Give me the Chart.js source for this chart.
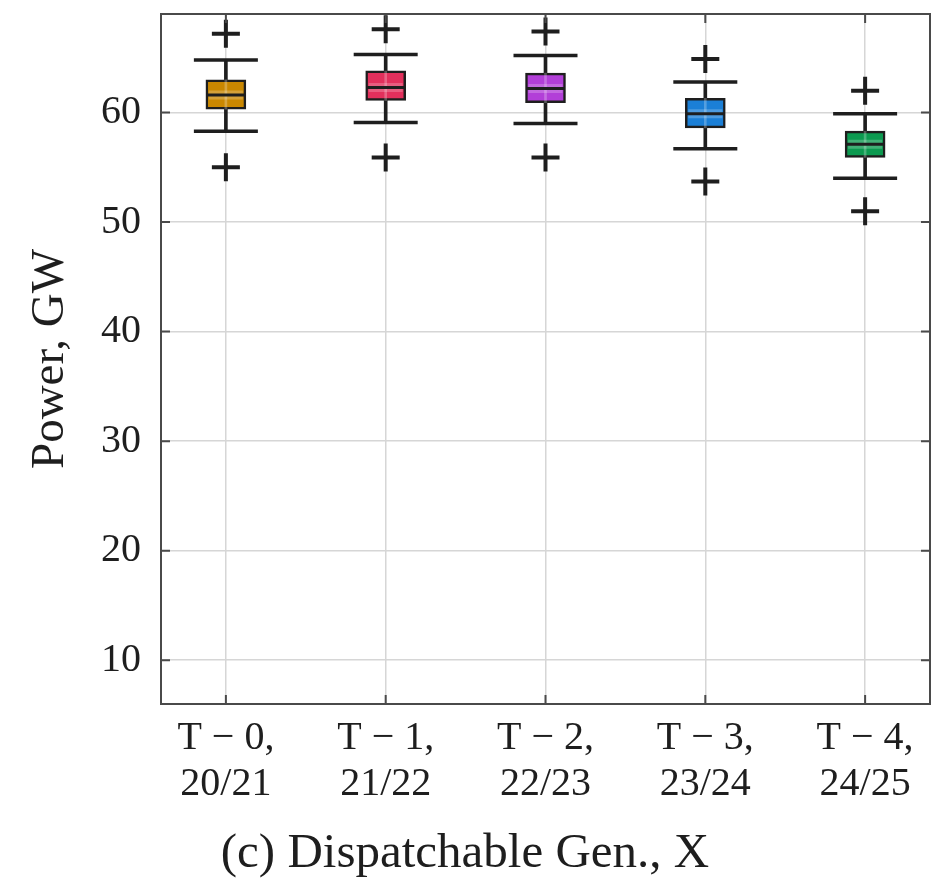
<!DOCTYPE html>
<html>
<head>
<meta charset="utf-8">
<script src="https://cdn.jsdelivr.net/npm/chart.js@4.4.1/dist/chart.umd.min.js"></script>
<style>
    html, body { margin: 0; padding: 0; background: #fff; }
    #wrap { width: 941px; height: 884px; }
</style>
</head>
<body>
<div id="wrap"><canvas id="boxChart"></canvas></div>
<script>
    // categories (x positions 1..5)
    const categories = [
        ['T − 0,', '20/21'],
        ['T − 1,', '21/22'],
        ['T − 2,', '22/23'],
        ['T − 3,', '23/24'],
        ['T − 4,', '24/25']
    ];

    // box plot statistics, GW
    const lowOutlier  = [55.0, 55.9, 55.9, 53.7, 51.0];
    const lowWhisker  = [58.3, 59.1, 59.0, 56.7, 54.0];
    const q1          = [60.3, 61.1, 60.9, 58.6, 55.9];
    const median      = [61.6, 62.3, 62.2, 59.9, 57.1];
    const q3          = [63.0, 63.8, 63.6, 61.3, 58.3];
    const highWhisker = [64.8, 65.3, 65.2, 62.8, 59.9];
    const highOutlier = [67.2, 67.6, 67.4, 64.9, 62.0];

    const yTicks = [10, 20, 30, 40, 50, 60];

    const boxColors = ['#c98700', '#e2305c', '#b23fd8', '#1b7fd6', '#0c9a50'];

    const serif = "'Liberation Serif', 'DejaVu Serif', serif";
    const ink = '#1e1e1e';

    function pts(values) {
        return values.map(function (v, i) { return { x: i + 1, y: v }; });
    }
    function ranges(lo, hi) {
        return lo.map(function (v, i) { return { x: i + 1, y: [v, hi[i]] }; });
    }
    function noPadding(scale) {
        scale.paddingTop = 0;
        scale.paddingBottom = 0;
        scale.paddingLeft = 0;
        scale.paddingRight = 0;
    }

    // box frame + inward ticks on all four sides
    const frame = {
        id: 'frame',
        afterDatasetsDraw(chart) {
            const ctx = chart.ctx;
            const a = chart.chartArea;
            const x = chart.scales.x;
            const y = chart.scales.y;
            ctx.save();
            ctx.strokeStyle = '#4a4a4a';
            ctx.lineWidth = 2;
            ctx.beginPath();
            y.ticks.forEach(function (t) {
                const py = y.getPixelForValue(t.value);
                ctx.moveTo(a.left, py); ctx.lineTo(a.left + 9, py);
                ctx.moveTo(a.right, py); ctx.lineTo(a.right - 9, py);
            });
            x.ticks.forEach(function (t) {
                const px = x.getPixelForValue(t.value);
                ctx.moveTo(px, a.bottom); ctx.lineTo(px, a.bottom - 9);
                ctx.moveTo(px, a.top); ctx.lineTo(px, a.top + 9);
            });
            ctx.stroke();
            ctx.strokeRect(a.left, a.top, a.right - a.left, a.bottom - a.top);
            ctx.restore();
        }
    };

    new Chart(document.getElementById('boxChart'), {
        type: 'bar',
        data: {
            datasets: [{
                // whisker stems
                type: 'bar',
                data: ranges(lowWhisker, highWhisker),
                backgroundColor: ink,
                barThickness: 3,
                grouped: false,
                order: 6
            }, {
                // boxes
                type: 'bar',
                data: ranges(q1, q3),
                backgroundColor: boxColors,
                borderColor: ink,
                borderWidth: 2.5,
                borderSkipped: false,
                barThickness: 40,
                grouped: false,
                order: 5
            }, {
                // light streak through the box
                type: 'bar',
                data: ranges(q1, q3),
                backgroundColor: 'rgba(255,255,255,0.25)',
                barThickness: 2,
                grouped: false,
                order: 4
            }, {
                type: 'scatter',
                data: pts(median),
                pointStyle: 'line',
                pointRadius: 17,
                borderColor: 'rgba(255,255,255,0.22)',
                borderWidth: 9,
                order: 3
            }, {
                type: 'scatter',
                data: pts(median),
                pointStyle: 'line',
                pointRadius: 19,
                borderColor: ink,
                borderWidth: 3,
                order: 2
            }, {
                // whisker caps
                type: 'scatter',
                data: pts(lowWhisker).concat(pts(highWhisker)),
                pointStyle: 'line',
                pointRadius: 32,
                borderColor: ink,
                borderWidth: 3.5,
                order: 1
            }, {
                // outliers
                type: 'scatter',
                data: pts(lowOutlier).concat(pts(highOutlier)),
                pointStyle: 'cross',
                pointRadius: 14,
                borderColor: ink,
                borderWidth: 4,
                order: 0
            }]
        },
        options: {
            responsive: true,
            maintainAspectRatio: false,
            animation: false,
            events: [],
            layout: {
                autoPadding: false,
                padding: { left: 0, right: 11, top: 14, bottom: 0 }
            },
            scales: {
                x: {
                    type: 'linear',
                    min: 0.594,
                    max: 5.406,
                    offset: false,
                    afterBuildTicks: function (scale) {
                        scale.ticks = categories.map(function (c, i) { return { value: i + 1 }; });
                    },
                    afterFit: function (scale) {
                        scale.height = 111.2;
                        noPadding(scale);
                    },
                    ticks: {
                        autoSkip: false,
                        maxRotation: 0,
                        padding: 11,
                        color: ink,
                        font: { family: serif, size: 40, lineHeight: 1.15 },
                        callback: function (value) { return categories[Math.round(value) - 1]; }
                    },
                    grid: { color: '#d6d6d6', lineWidth: 1.5, drawTicks: false, offset: false },
                    border: { display: false }
                },
                y: {
                    min: 6,
                    max: 69,
                    afterBuildTicks: function (scale) {
                        scale.ticks = yTicks.map(function (v) { return { value: v }; });
                    },
                    afterFit: function (scale) {
                        scale.width = 161;
                        noPadding(scale);
                    },
                    ticks: {
                        padding: 20,
                        color: ink,
                        font: { family: serif, size: 40 }
                    },
                    grid: { color: '#d6d6d6', lineWidth: 1.5, drawTicks: false },
                    border: { display: false },
                    title: {
                        display: true,
                        text: 'Power, GW',
                        color: ink,
                        padding: { top: 22, bottom: 0 },
                        font: { family: serif, size: 47, lineHeight: 1.2 }
                    }
                }
            },
            plugins: {
                legend: { display: false },
                tooltip: { enabled: false },
                title: {
                    display: true,
                    position: 'bottom',
                    text: '(c) Dispatchable Gen., X',
                    color: ink,
                    padding: { top: 10, bottom: 0 },
                    font: { family: serif, size: 49, weight: 'normal', lineHeight: 1.2 }
                }
            }
        },
        plugins: [frame]
    });
</script>
</body>
</html>
